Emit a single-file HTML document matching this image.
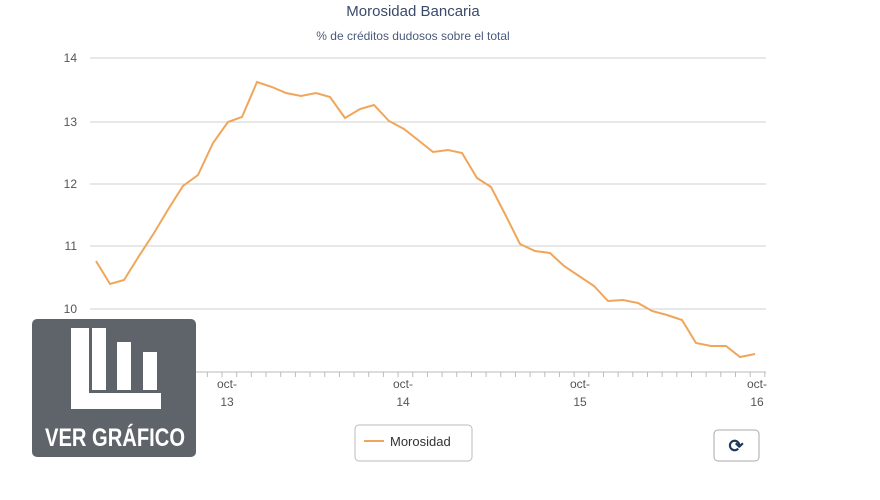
<!DOCTYPE html>
<html><head><meta charset="utf-8"><style>
body{margin:0;background:#fff;width:880px;height:495px;overflow:hidden;font-family:"Liberation Sans",sans-serif}
</style></head><body>
<svg width="880" height="495" xmlns="http://www.w3.org/2000/svg" font-family="Liberation Sans, sans-serif">
<text x="413" y="16" text-anchor="middle" font-size="15" fill="#3a4a6b">Morosidad Bancaria</text>
<text x="413" y="40" text-anchor="middle" font-size="12" fill="#4a5a7b">% de créditos dudosos sobre el total</text>
<g stroke="#d0d0d0" stroke-width="1">
<line x1="90" y1="58" x2="766" y2="58"/><line x1="90" y1="122" x2="766" y2="122"/>
<line x1="90" y1="184" x2="766" y2="184"/><line x1="90" y1="246" x2="766" y2="246"/>
<line x1="90" y1="309" x2="766" y2="309"/>
</g>
<g font-size="12" fill="#555" text-anchor="end">
<text x="77" y="62">14</text><text x="77" y="126">13</text><text x="77" y="188">12</text><text x="77" y="250">11</text><text x="77" y="313">10</text>
</g>
<line x1="90" y1="372" x2="766" y2="372" stroke="#bbb"/>
<g stroke="#bbb" id="ticks"></g>
<g font-size="12" fill="#555" text-anchor="middle">
<text x="227" y="388">oct-</text><text x="227" y="406">13</text>
<text x="403" y="388">oct-</text><text x="403" y="406">14</text>
<text x="580" y="388">oct-</text><text x="580" y="406">15</text>
<text x="757" y="388">oct-</text><text x="757" y="406">16</text>
</g>
<polyline fill="none" stroke="#f0a65a" stroke-width="2" points="96,261 110,284 124,280 139,256 154,233 169,208 183,186 198,175 213,143 228,122 242,117 257,82 272,87 286,93 301,96 316,93 330,97 345,118 360,109 374,105 389,121 404,129 418,140 433,152 448,150 462,153 477,178 491,187 506,216 520,244 535,251 550,253 564,266 579,276 594,286 608,301 623,300 638,303 652,311 667,315 682,320 696,343 711,346 726,346 740,357 755,354"/>
<rect x="355" y="425" width="117" height="36" rx="4" fill="#fff" stroke="#bbb"/>
<line x1="364" y1="441" x2="384" y2="441" stroke="#f0a65a" stroke-width="2"/>
<text x="390" y="446" font-size="13" fill="#333">Morosidad</text>
<rect x="714" y="430" width="45" height="31" rx="4" fill="#fff" stroke="#aaa"/>
<text x="736" y="452" text-anchor="middle" font-size="18" font-weight="bold" fill="#1d3a5a">⟳</text>
<rect x="32" y="319" width="164" height="138" rx="5" fill="#5f646b"/>
<g fill="#fff">
<rect x="71" y="328" width="18" height="81"/><rect x="71" y="393" width="90" height="16"/>
<rect x="92" y="328" width="14" height="62" fill="#fff"/>
<rect x="117" y="342" width="14" height="48"/>
<rect x="143" y="352" width="14" height="38"/>
</g>
<rect x="89" y="328" width="3" height="62" fill="#5f646b"/>
<text x="115" y="446" text-anchor="middle" font-size="25" font-weight="bold" fill="#fff" textLength="140" lengthAdjust="spacingAndGlyphs">VER GRÁFICO</text>
</svg>
<script>
var g=document.getElementById('ticks'),s='';
for(var i=0;i<47;i++){var x=90+i*14.67;s+='<line x1="'+x+'" y1="372" x2="'+x+'" y2="377"/>';}
g.innerHTML=s;
</script>
</body></html>
